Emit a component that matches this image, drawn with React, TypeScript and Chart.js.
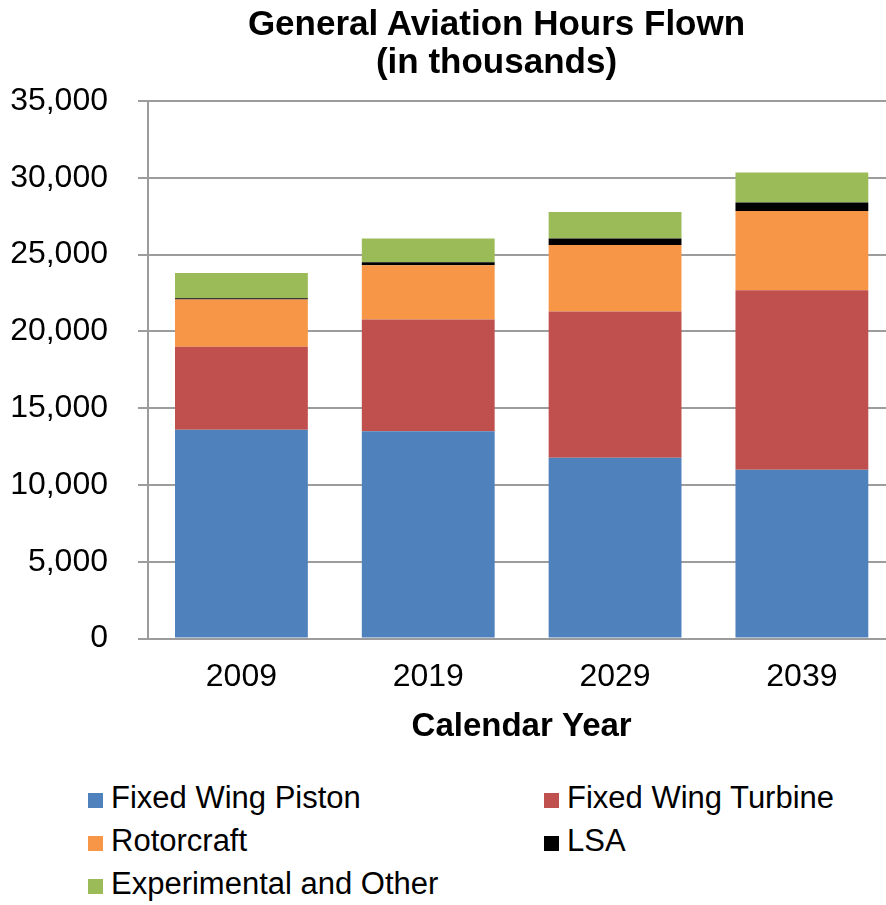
import React, { useEffect, useRef } from "react";
import { Chart, registerables } from "chart.js";

Chart.register(...registerables);

const categories = ["2009", "2019", "2029", "2039"];
const fixedWingPiston = [13600, 13490, 11770, 10990];
const fixedWingTurbine = [5400, 7290, 9530, 11680];
const rotorcraft = [3080, 3520, 4320, 5170];
const lsa = [70, 200, 420, 550];
const experimentalOther = [1650, 1550, 1740, 1960];

const yMin = 0;
const yMax = 35000;
const yStep = 5000;

const titleLines = ["General Aviation Hours Flown", "(in thousands)"];
const xAxisTitle = "Calendar Year";

const seriesNames = [
  "Fixed Wing Piston",
  "Fixed Wing Turbine",
  "Rotorcraft",
  "LSA",
  "Experimental and Other",
];
const seriesColors = ["#4F81BD", "#C0504D", "#F79646", "#000000", "#9BBB59"];
const seriesValues = [fixedWingPiston, fixedWingTurbine, rotorcraft, lsa, experimentalOther];

const FONT = "'Liberation Sans', Arial, Helvetica, sans-serif";
const GRID = "#9c9c9c";

export default function App() {
  const canvasRef = useRef<HTMLCanvasElement | null>(null);

  useEffect(() => {
    const canvas = canvasRef.current;
    if (!canvas) return;
    const chart = new Chart(canvas, {
      type: "bar",
      data: {
        labels: categories,
        datasets: seriesNames.map((name, i) => ({
          label: name,
          data: seriesValues[i],
          backgroundColor: seriesColors[i],
          borderWidth: 0,
          categoryPercentage: 1,
          barPercentage: 0.711,
        })),
      },
      options: {
        animation: false,
        responsive: false,
        maintainAspectRatio: false,
        layout: { padding: { top: 101, right: 14.7, left: 0, bottom: 0 } },
        plugins: {
          legend: { display: false },
          title: { display: false },
          tooltip: { enabled: false },
        },
        scales: {
          x: {
            stacked: true,
            offset: true,
            grid: { display: false, drawTicks: false },
            border: { display: true, color: GRID, width: 2 },
            ticks: {
              color: "#000",
              padding: 19,
              font: { family: FONT, size: 32 },
            },
            title: {
              display: true,
              text: xAxisTitle,
              color: "#000",
              font: { family: FONT, size: 33, weight: "bold" },
              padding: { top: 0, bottom: 13 },
            },
            afterFit: (scale: any) => {
              scale.height = 121.5;
            },
          },
          y: {
            stacked: true,
            min: yMin,
            max: yMax,
            grid: {
              color: GRID,
              lineWidth: 2,
              drawTicks: true,
              tickLength: 10,
            },
            border: { display: true, color: GRID, width: 2 },
            ticks: {
              stepSize: yStep,
              color: "#000",
              padding: 30,
              font: { family: FONT, size: 32 },
              callback: (v: any) => Number(v).toLocaleString("en-US"),
            },
            afterFit: (scale: any) => {
              scale.width = 148;
            },
          },
        },
      },
    });
    return () => chart.destroy();
  }, []);

  return (
    <div
      style={{
        position: "fixed",
        left: 0,
        top: 0,
        width: 886,
        height: 905,
        overflow: "hidden",
        background: "#fff",
        fontFamily: FONT,
      }}
    >
      <canvas
        ref={canvasRef}
        width={910}
        height={760}
        style={{ position: "absolute", left: 0, top: 0, width: 910, height: 760 }}
      />
      <div
        style={{
          position: "absolute",
          left: 0,
          top: 4,
          width: 993,
          textAlign: "center",
          fontWeight: "bold",
          fontSize: 35,
          lineHeight: "38px",
          color: "#000",
        }}
      >
        {titleLines.map((t, i) => (
          <div key={i}>{t}</div>
        ))}
      </div>
      {seriesNames.map((name, i) => {
        const row = Math.floor(i / 2);
        const col = i % 2;
        const left = col === 0 ? 88 : 544;
        const centerY = 798 + row * 43;
        return (
          <div
            key={name}
            style={{
              position: "absolute",
              left,
              top: centerY - 20,
              height: 40,
              display: "flex",
              alignItems: "center",
              whiteSpace: "nowrap",
            }}
          >
            <span
              style={{
                display: "inline-block",
                width: 15,
                height: 15,
                background: seriesColors[i],
                marginRight: 8,
                marginTop: 4,
              }}
            />
            <span style={{ fontSize: 31, lineHeight: "40px", color: "#000" }}>{name}</span>
          </div>
        );
      })}
    </div>
  );
}
